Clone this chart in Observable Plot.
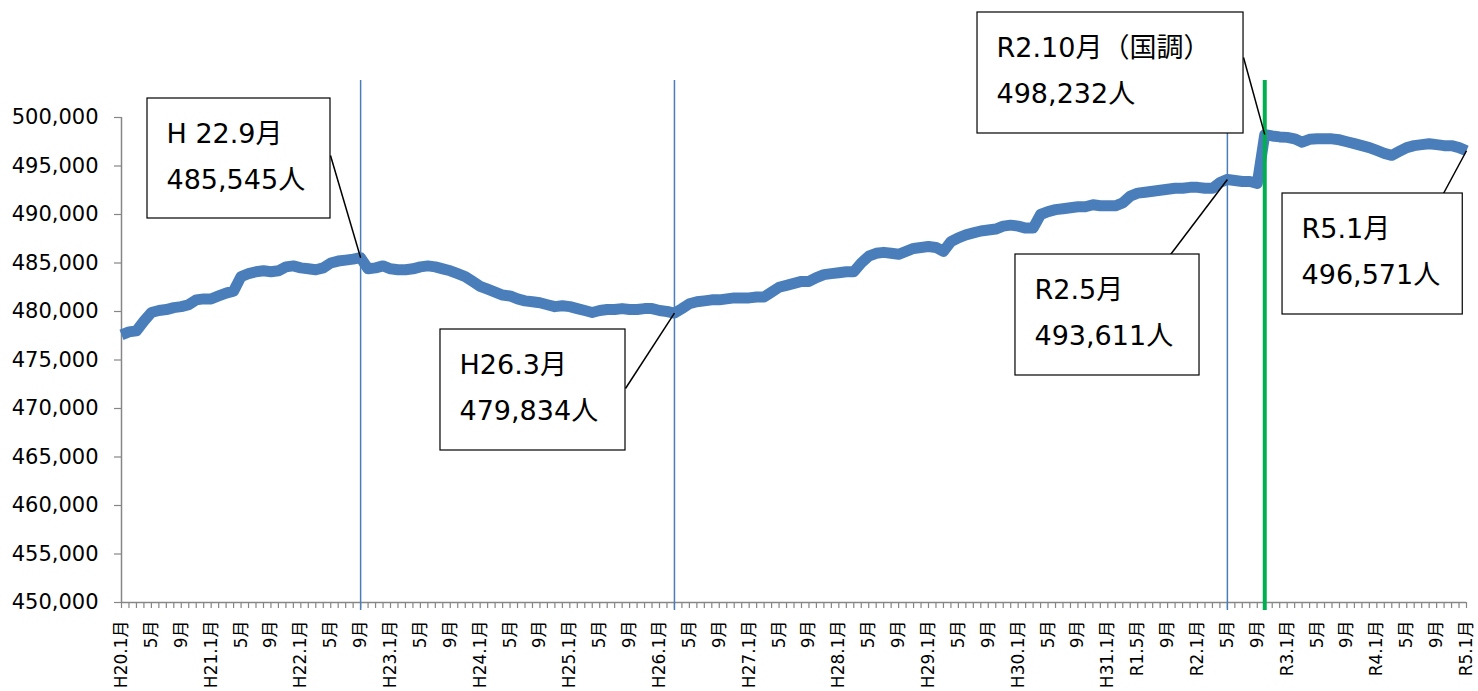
<!DOCTYPE html>
<html>
<head>
<meta charset="utf-8">
<script src="https://cdn.jsdelivr.net/npm/d3@7"></script>
<script src="https://cdn.jsdelivr.net/npm/@observablehq/plot@0.6"></script>
<style>
  body { margin: 0; background: #fff; }
  #chart svg { display: block; }
</style>
</head>
<body>
<div id="chart"></div>
<script>
// Monthly population, H20.1 (index 0) … R5.1 (index 180)
const population = [
  // H20
  477600, 477900, 478000, 479000, 479900, 480100, 480200, 480400, 480500, 480700, 481200, 481300,
  // H21
  481300, 481600, 481900, 482100, 483600, 483900, 484100, 484200, 484100, 484200, 484600, 484700,
  // H22
  484500, 484400, 484300, 484500, 485000, 485200, 485300, 485400, 485545, 484400, 484500, 484700,
  // H23
  484400, 484300, 484300, 484400, 484600, 484700, 484600, 484400, 484200, 483900, 483600, 483100,
  // H24
  482600, 482300, 482000, 481700, 481600, 481300, 481100, 481000, 480900, 480700, 480500, 480600,
  // H25
  480500, 480300, 480100, 479900, 480100, 480200, 480200, 480300, 480200, 480200, 480300, 480300,
  // H26
  480100, 480000, 479834, 480300, 480800, 481000, 481100, 481200, 481200, 481300, 481400, 481400,
  // H27
  481400, 481500, 481500, 482000, 482500, 482700, 482900, 483100, 483100, 483500, 483800, 483900,
  // H28
  484000, 484100, 484100, 485000, 485700, 486000, 486100, 486000, 485900, 486200, 486500, 486600,
  // H29
  486700, 486600, 486200, 487200, 487600, 487900, 488100, 488300, 488400, 488500, 488800, 488900,
  // H30
  488800, 488600, 488600, 490000, 490300, 490500, 490600, 490700, 490800, 490800, 491000, 490900,
  // H31 / R1
  490900, 490900, 491200, 491900, 492200, 492300, 492400, 492500, 492600, 492700, 492700, 492800,
  // R2
  492800, 492700, 492700, 493300, 493611, 493500, 493400, 493400, 493200, 498232, 498100, 498000,
  // R3
  497950, 497800, 497450, 497750, 497800, 497800, 497800, 497700, 497500, 497300, 497100, 496900,
  // R4
  496600, 496300, 496100, 496500, 496900, 497100, 497200, 497300, 497200, 497100, 497100, 496900,
  // R5
  496571
];

const xTickLabels = [
  "H20.1月","5月","9月","H21.1月","5月","9月","H22.1月","5月","9月",
  "H23.1月","5月","9月","H24.1月","5月","9月","H25.1月","5月","9月",
  "H26.1月","5月","9月","H27.1月","5月","9月","H28.1月","5月","9月",
  "H29.1月","5月","9月","H30.1月","5月","9月","H31.1月","R1.5月","9月",
  "R2.1月","5月","9月","R3.1月","5月","9月","R4.1月","5月","9月","R5.1月"
];
const xTickIndex = xTickLabels.map((_, k) => k * 4);
const yTicks = d3.range(450000, 500001, 5000);

const markerMonths = [32, 74, 148];   // H22.9, H26.3, R2.5
const censusMonth = 153;              // R2.10

// Callouts: label lines, pointed month index
const calloutLine1 = ["H 22.9月", "H26.3月", "R2.5月", "R2.10月（国調）", "R5.1月"];
const calloutLine2 = ["485,545人", "479,834人", "493,611人", "498,232人", "496,571人"];
const calloutMonth = [32, 74, 148, 153, 180];

// Callout box placement (data units: month index, population)
const boxLayout = [
  {x1: 3.48,   x2: 27.97,  top: 501959, bottom: 489588, lx: 27.97,  ly: 496082},
  {x1: 42.69,  x2: 67.45,  top: 478144, bottom: 465670, lx: 67.45,  ly: 472062},
  {x1: 119.64, x2: 144.27, top: 485876, bottom: 473402, lx: 140.4,  ly: 485876},
  {x1: 114.56, x2: 150.16, top: 510825, bottom: 498351, lx: 150.16, ly: 506186},
  {x1: 155.38, x2: 179.5,  top: 492165, bottom: 479691, lx: 176.92, ly: 492165}
];

const data = population.map((v, i) => ({i, v}));
const callouts = boxLayout.map((b, k) => ({
  ...b,
  line1: calloutLine1[k],
  line2: calloutLine2[k],
  px: calloutMonth[k],
  pv: population[calloutMonth[k]]
}));

const FONT = "'DejaVu Sans', 'Noto Sans CJK JP', sans-serif";
const GREY = "#868686";
const ruleTop = 503814, ruleBottom = 449175;

const chart = Plot.plot({
  width: 1478,
  height: 691,
  marginTop: 117,
  marginBottom: 89,
  marginLeft: 121,
  marginRight: 12,
  style: {fontFamily: FONT, background: "#fff", color: "#000"},
  x: {type: "linear", domain: [0, 180], axis: null},
  y: {domain: [450000, 500000], axis: null},
  marks: [
    // minor x ticks (every month)
    Plot.axisX({ticks: d3.range(0, 181), tickSize: 6, tickFormat: () => "", stroke: GREY, strokeWidth: 1.2}),
    // x labels
    Plot.axisX({
      ticks: xTickIndex,
      tickFormat: d => xTickLabels[Math.round(d / 4)],
      tickRotate: -90,
      tickSize: 0,
      tickPadding: 18,
      fontSize: 17,
      color: "#000"
    }),
    // y ticks and labels
    Plot.axisY({ticks: yTicks, tickSize: 7, tickFormat: () => "", stroke: GREY, strokeWidth: 1.2}),
    Plot.axisY({
      ticks: yTicks,
      tickFormat: d3.format(","),
      tickSize: 0,
      tickPadding: 23,
      fontSize: 21,
      color: "#000"
    }),
    // axes lines
    Plot.ruleY([450000], {stroke: GREY, strokeWidth: 1.5}),
    Plot.ruleX([0], {stroke: GREY, strokeWidth: 1.5}),
    // blue marker lines
    Plot.ruleX(markerMonths, {y1: ruleBottom, y2: ruleTop, stroke: "#4a7ebb", strokeWidth: 1.5}),
    // data line
    Plot.line(data, {x: "i", y: "v", stroke: "#4a7ebb", strokeWidth: 11, strokeLinejoin: "round", strokeLinecap: "butt"}),
    // census line
    Plot.ruleX([censusMonth], {y1: ruleBottom, y2: ruleTop, stroke: "#00b050", strokeWidth: 4}),
    // callout leaders
    Plot.link(callouts, {x1: "lx", y1: "ly", x2: "px", y2: "pv", stroke: "#000", strokeWidth: 1.5}),
    // callout boxes
    Plot.rect(callouts, {x1: "x1", x2: "x2", y1: "bottom", y2: "top", fill: "#fff", stroke: "#000", strokeWidth: 1.2}),
    Plot.text(callouts, {x: "x1", y: "top", text: "line1", dx: 19, dy: 36, textAnchor: "start", lineAnchor: "middle", fontSize: 27, fill: "#000", fontFamily: FONT}),
    Plot.text(callouts, {x: "x1", y: "top", text: "line2", dx: 19, dy: 82, textAnchor: "start", lineAnchor: "middle", fontSize: 27, fill: "#000", fontFamily: FONT})
  ]
});

document.getElementById("chart").appendChild(chart);
</script>
</body>
</html>
